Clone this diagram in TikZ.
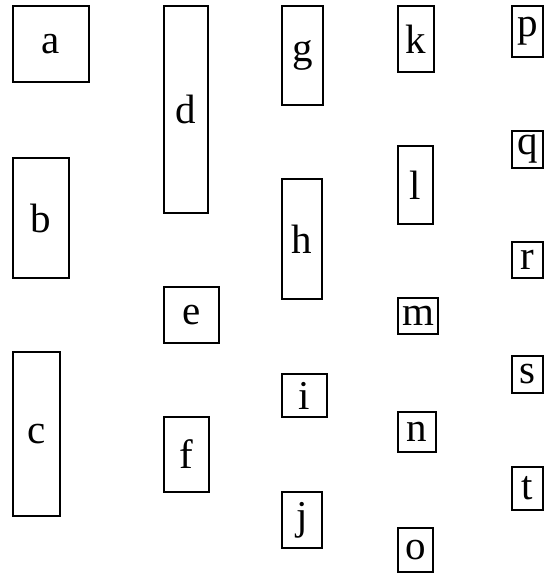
\documentclass[tikz,border=0pt]{standalone}
\usepackage{fontspec}
\setmainfont{Liberation Serif}
\usetikzlibrary{positioning}

\begin{document}
\begin{tikzpicture}[
    x=1pt, y=-1pt,
    every node/.style={font=\fontsize{41}{43}\selectfont},
    box/.style n args={2}{rectangle, draw, line width=1.5pt, inner sep=0pt, minimum width=#1pt, minimum height=#2pt}
]
\useasboundingbox (0,0) rectangle (545,577);

% first column
\node[box={76}{76}] (a) at (51,44) {a};
\node[box={56}{120}] (b) at (41,218) {b};
\node[box={47}{164}] (c) at (36.5,434) {c};

% second column
\node[box={44}{207}] (d) at (186,109.5) {d};
\node[box={55}{56}] (e) at (191.5,315) {e};
\node[box={45}{75}] (f) at (186.5,454.5) {f};

% third column
\node[box={41}{99}] (g) at (302.5,55.5) {g};
\node[box={40}{120}] (h) at (302,239) {h};
\node[box={45}{43}] (i) at (304.5,395.5) {i};
\node[box={40}{56}] (j) at (302,520) {j};

% fourth column
\node[box={36}{66}] (k) at (416,39) {k};
\node[box={35}{78}] (l) at (415.5,185) {l};
\node[box={40}{36}] (m) at (418,316) {m};
\node[box={38}{40}] (n) at (417,432) {n};
\node[box={35}{44}] (o) at (415.5,550) {o};

% last column
\node[box={31}{51}] (p) at (527.5,31.5) {p};
\node[box={31}{37}] (q) at (527.5,149.5) {q};
\node[box={31}{36}] (r) at (527.5,260) {r};
\node[box={31}{37}] (s) at (527.5,374.5) {s};
\node[box={31}{43}] (t) at (527.5,488.5) {t};

\end{tikzpicture}
\end{document}
